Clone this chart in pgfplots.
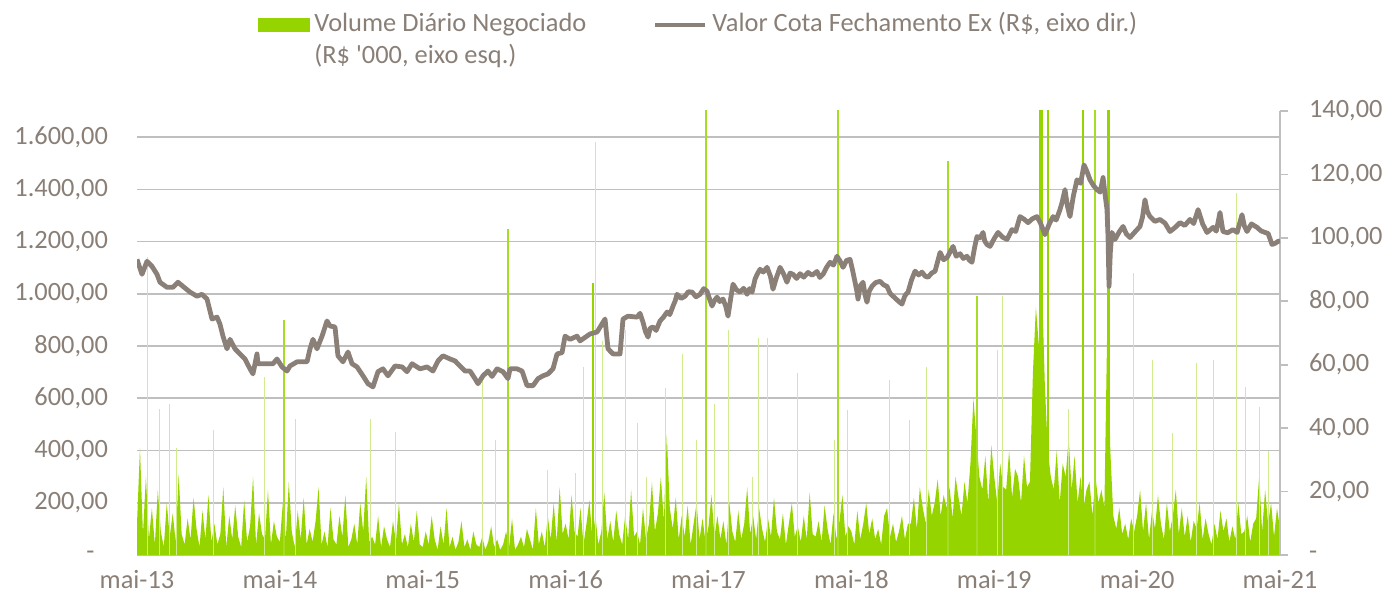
\documentclass[border=0pt]{standalone}
\usepackage{fontspec}
\setmainfont{Carlito}
\usepackage{pgfplots}
\pgfplotsset{compat=1.18}
\definecolor{vgreen}{RGB}{150,212,0}
\definecolor{pgrey}{RGB}{139,128,120}
\definecolor{tgrey}{RGB}{137,127,119}
\definecolor{gridgrey}{RGB}{191,191,191}
\begin{document}
\begin{tikzpicture}
\pgfplotsset{
  every axis/.append style={scale only axis, width=571.5pt, height=222pt, xmin=0, xmax=96,
    tick label style={font=\fontsize{13.2}{16}\selectfont, text=tgrey}},
}
\begin{axis}[
  ymin=0, ymax=1700,
  axis x line*=bottom, axis y line*=left,
  x axis line style={draw=gridgrey, line width=0.8pt},
  y axis line style={draw=none},
  xtick={0,12,...,96},
  xticklabels={mai-13,mai-14,mai-15,mai-16,mai-17,mai-18,mai-19,mai-20,mai-21},
  xtick style={draw=none},
  ytick={0,200,...,1600},
  yticklabels={{-\hphantom{0}},{200,00},{400,00},{600,00},{800,00},{1.000,00},{1.200,00},{1.400,00},{1.600,00}},
  ytick style={draw=none},
  ymajorgrids, grid style={gridgrey, line width=0.8pt},
  yticklabel style={xshift=-11pt},
  xticklabel style={yshift=-4pt},
]
\coordinate (BL) at (rel axis cs:0,0);
\coordinate (TR) at (rel axis cs:1,1);
\coordinate (TL) at (rel axis cs:0,1);
\addplot[fill=vgreen, draw=none] table[row sep=\\, x expr=\coordindex/4, y=v] {v\\
120\\410\\80\\300\\ 60\\180\\40\\250\\ 90\\30\\200\\70\\ 160\\50\\310\\80\\
40\\140\\60\\220\\ 100\\30\\170\\60\\ 230\\50\\120\\40\\ 80\\260\\30\\150\\
60\\190\\70\\30\\ 210\\50\\110\\300\\ 40\\160\\80\\60\\ 250\\40\\130\\70\\
50\\200\\60\\280\\ 90\\30\\170\\60\\ 220\\40\\100\\50\\ 130\\260\\40\\90\\
30\\180\\60\\40\\ 150\\70\\230\\30\\ 60\\120\\40\\200\\ 90\\300\\50\\70\\
40\\150\\30\\110\\ 60\\30\\130\\50\\ 200\\40\\80\\30\\ 120\\50\\170\\40\\
30\\90\\40\\150\\ 60\\20\\110\\40\\ 180\\30\\70\\20\\ 50\\130\\30\\60\\
20\\90\\40\\30\\ 70\\20\\50\\110\\ 30\\60\\20\\40\\ 90\\30\\140\\20\\
40\\70\\30\\100\\ 60\\20\\180\\40\\ 90\\30\\150\\60\\ 200\\50\\260\\80\\
120\\60\\230\\90\\ 70\\180\\40\\120\\ 210\\60\\150\\40\\ 90\\240\\60\\130\\
50\\170\\80\\40\\ 150\\60\\250\\70\\ 90\\40\\180\\60\\ 120\\280\\90\\160\\
300\\130\\460\\180\\ 100\\220\\60\\150\\ 70\\190\\40\\120\\ 200\\60\\140\\50\\
110\\230\\70\\150\\ 60\\130\\40\\200\\ 90\\50\\170\\60\\ 120\\260\\80\\150\\
60\\180\\100\\50\\ 140\\70\\220\\90\\ 60\\160\\40\\120\\ 200\\70\\110\\50\\
150\\60\\240\\80\\ 70\\130\\50\\190\\ 100\\40\\160\\60\\ 130\\230\\70\\110\\
90\\40\\170\\60\\ 120\\200\\80\\140\\ 60\\100\\40\\150\\ 180\\70\\120\\50\\
90\\150\\60\\120\\ 120\\220\\100\\260\\ 180\\120\\250\\150\\ 200\\290\\150\\230\\
180\\260\\140\\300\\ 220\\150\\280\\200\\ 350\\600\\450\\300\\ 250\\380\\200\\420\\
300\\200\\350\\260\\ 250\\400\\220\\330\\ 300\\200\\380\\260\\ 280\\700\\950\\800\\
1050\\650\\400\\300\\ 250\\400\\200\\350\\ 300\\450\\250\\380\\ 200\\300\\180\\250\\
280\\150\\300\\200\\ 250\\180\\900\\400\\ 150\\100\\180\\80\\ 120\\60\\140\\90\\
150\\250\\90\\200\\ 60\\170\\100\\230\\ 120\\60\\200\\90\\ 150\\250\\80\\180\\
70\\150\\50\\130\\ 100\\200\\60\\140\\ 80\\40\\120\\60\\ 170\\90\\140\\50\\
110\\60\\200\\80\\ 90\\150\\50\\120\\ 140\\300\\90\\250\\ 120\\200\\70\\180\\
100\\
} \closedcycle;
% faint thin spikes
\addplot[ycomb, vgreen!45, line width=0.5pt] coordinates {
(0.92,1140) (1.85,560) (2.77,580) (3.28,410) (6.4,480) (10.75,680) (13.35,520)
(19.57,520) (21.7,470) (28.98,670) (30.1,440) (34.5,325) (36.8,314)
(37.5,720) (38.55,1580) (39.06,820) (40.99,860) (42.0,505) (42.8,300)
(44.43,640) (45.78,770) (47.0,440) (48.5,580) (49.72,860) (51.7,300)
(52.16,830) (52.92,830) (55.5,697) (58.6,440) (59.7,555) (63.2,670)
(64.9,517) (66.3,720) (72.3,785) (72.7,990)
(78.20,560) (83.66,1080) (85.3,746) (87.0,467) (89.0,735) (90.4,746)
(92.31,1385) (93.1,643) (94.3,566) (95.0,400)
};
% stronger spikes
\addplot[ycomb, vgreen!85, line width=0.6pt] coordinates {
(12.35,900) (31.16,1250) (47.79,2000) (58.88,2000) (68.12,1510) (70.55,990) (80.46,2000)
};
\addplot[ycomb, vgreen, line width=1pt] coordinates {
(38.30,1040) (75.84,2000) (76.0,2000) (76.51,2000) (79.46,2000) (81.56,2000) (81.64,2000)
};
\end{axis}
\begin{axis}[
  ymin=0, ymax=140,
  axis x line=none, axis y line*=right,
  y axis line style={draw=gridgrey, line width=0.8pt},
  ytick={0,20,...,140},
  yticklabels={-,{20,00},{40,00},{60,00},{80,00},{100,00},{120,00},{140,00}},
  tick align=outside, major tick length=4pt,
  ytick style={draw=gridgrey, line width=0.8pt},
  yticklabel style={xshift=7pt},
]
\addplot[pgrey, line width=2.4pt, line join=round] coordinates {
(0.00,93.2) (0.42,88.5) (0.84,92.6) (1.26,91.0) (1.68,88.5) (1.93,86.0) (2.52,84.4)
(3.02,84.4) (3.44,86.0) (3.86,84.7) (4.45,82.9) (5.04,81.6) (5.46,82.2) (5.88,80.7)
(6.30,74.4) (6.72,75.0) (6.97,72.8) (7.22,69.0) (7.56,65.0) (7.81,68.0) (8.23,65.0)
(8.65,63.4) (9.07,61.8) (9.49,58.7) (9.74,57.1) (10.08,63.4) (10.16,60.3) (10.58,60.3)
(11.42,60.3) (11.76,61.8) (12.18,59.3) (12.60,58.0) (12.85,59.6) (13.44,60.9) (14.28,60.9)
(14.53,65.0) (14.78,68.0) (15.12,65.0) (15.54,69.0) (15.96,73.8) (16.21,72.2) (16.63,71.9)
(16.88,62.8) (17.30,60.9) (17.72,64.0) (18.06,60.3) (18.48,59.3) (18.98,56.5) (19.40,54.0)
(19.82,53.0) (20.24,57.8) (20.66,58.7) (21.08,56.5) (21.67,59.6) (22.26,59.3) (22.68,57.8)
(23.10,60.3) (23.77,58.7) (24.36,59.3) (24.86,58.0) (25.28,61.2) (25.70,62.8) (26.29,61.8)
(26.71,61.2) (27.13,59.6) (27.55,58.0) (27.97,58.0) (28.39,55.6) (28.64,54.0) (29.06,56.5)
(29.48,58.0) (29.82,56.3) (30.24,58.7) (30.74,57.8) (31.16,55.6) (31.33,58.7) (31.92,58.7)
(32.34,58.0) (32.76,53.4) (33.26,53.4) (33.68,55.6) (34.10,56.5) (34.52,57.1) (34.94,58.7)
(35.28,63.4) (35.70,63.8) (35.95,69.0) (36.37,68.0) (36.96,69.0) (37.21,67.5) (38.05,69.7)
(38.64,70.3) (39.31,74.4) (39.56,65.0) (39.98,63.4) (40.57,63.4) (40.82,74.4) (41.24,75.3)
(42.00,75.0) (42.25,76.2) (42.50,73.4) (42.7,70.5) (42.92,68.7) (43.1,71.5) (43.34,71.9)
(43.6,70.8) (43.93,73.8) (44.2,74.9) (44.52,76.6) (44.75,75.8) (45.02,78.5) (45.2,80.1)
(45.36,82.2) (45.7,80.9) (46.03,81.6) (46.3,83.0) (46.62,82.9) (46.95,81.4) (47.29,82.2)
(47.6,84.0) (47.87,83.2) (48.1,80.6) (48.30,78.5) (48.5,80.2) (48.72,81.3) (48.95,79.9)
(49.22,80.7) (49.45,78.4) (49.64,75.3) (49.85,80.5) (50.06,85.4) (50.35,83.6) (50.65,82.9)
(50.95,84.1) (51.24,82.2) (51.45,84.0) (51.66,82.9) (51.91,87.0) (52.1,88.6) (52.33,90.1)
(52.6,89.2) (52.92,90.7) (53.2,87.9) (53.42,83.8) (53.7,87.4) (54.01,90.7) (54.3,88.7)
(54.59,86.0) (54.85,88.9) (55.10,88.5) (55.4,87.2) (55.69,88.7) (56.0,87.6) (56.36,89.1)
(56.7,88.2) (57.11,89.4) (57.35,87.5) (57.62,88.5) (57.9,90.6) (58.21,92.3) (58.5,91.4)
(58.79,94.2) (59.05,92.7) (59.30,90.7) (59.6,92.9) (59.89,93.2) (60.1,89.8) (60.31,86.0)
(60.45,83.4) (60.56,80.7) (60.75,84.9) (60.98,86.0) (61.15,82.0) (61.31,79.7) (61.5,83.2)
(61.73,84.7) (62.05,85.9) (62.41,86.3) (62.7,85.2) (62.99,84.7) (63.25,82.5) (63.50,81.6)
(63.9,80.2) (64.25,79.1) (64.5,81.8) (64.76,82.9) (65.05,86.7) (65.35,89.5) (65.65,88.3)
(65.93,89.2) (66.2,87.9) (66.44,87.6) (66.75,88.9) (67.03,89.5)
(67.45,95.4) (67.75,93.1) (68.04,93.8) (68.3,95.6) (68.54,97.3) (68.8,94.2) (69.13,95.0)
(69.4,93.5) (69.71,94.2) (69.9,93.0) (70.13,92.3) (70.35,97.0) (70.55,100.4) (70.8,100.0)
(71.06,101.7) (71.2,99.0) (71.39,97.9) (71.65,97.3) (72.0,99.8) (72.32,101.7) (72.7,100.2)
(73.07,99.5) (73.49,102.6) (73.8,102.0) (74.16,106.7) (74.5,105.9) (74.84,104.8) (75.2,106.0)
(75.59,106.7) (75.9,104.5) (76.26,101.0) (76.6,104.2) (76.94,106.7) (77.2,105.6) (77.52,108.9)
(77.7,111.2) (77.94,115.2) (78.15,109.9) (78.36,106.7) (78.65,113.3) (78.95,118.3) (79.25,117.2)
(79.54,123.0) (79.8,120.8) (80.04,118.3) (80.35,116.4) (80.63,115.2) (80.9,114.4) (81.14,119.0)
(81.3,113.9) (81.47,108.9) (81.56,100.0) (81.64,84.7) (81.75,95.5) (81.89,101.7)
(82.14,99.5) (82.5,101.9) (82.82,103.6) (83.1,101.2) (83.40,100.1) (83.8,101.8) (84.24,103.6)
(84.45,106.5) (84.66,112.0) (84.85,108.4) (85.08,106.7) (85.5,105.2) (85.92,105.8) (86.35,104.6)
(86.76,102.0) (87.2,103.3) (87.60,104.8) (88.0,103.9) (88.44,105.8) (88.75,104.5) (89.12,108.9)
(89.5,104.4) (89.87,101.7) (90.1,102.4) (90.38,103.3) (90.65,102.1) (90.96,108.0) (91.21,102.0)
(91.6,101.6) (92.06,102.6) (92.4,101.7) (92.81,107.3) (93.0,103.8) (93.23,102.0) (93.6,104.4)
(94.07,103.3) (94.4,102.2) (94.74,101.7) (95.0,101.4) (95.33,97.9) (95.6,98.3) (95.84,98.9)
(96.00,99.0)
};
\end{axis}
\begin{scope}[every node/.style={font=\fontsize{13.2}{16}\selectfont, text=tgrey, inner sep=0pt, anchor=base west}]
\fill[vgreen] ([shift={(60.5pt,39.5pt)}]TL) rectangle ([shift={(86.5pt,46.5pt)}]TL);
\node at ([shift={(88.5pt,39.5pt)}]TL) {Volume Diário Negociado};
\node at ([shift={(88.5pt,23.5pt)}]TL) {(R\$ \textquotesingle 000, eixo esq.)};
\draw[pgrey, line width=2.4pt] ([shift={(259pt,43pt)}]TL) -- ([shift={(284pt,43pt)}]TL);
\node at ([shift={(287.5pt,39.5pt)}]TL) {Valor Cota Fechamento Ex (R\$, eixo dir.)};
\end{scope}
\pgfresetboundingbox
\path[use as bounding box] ([shift={(-68.5pt,-23.5pt)}]BL) rectangle ([shift={(53pt,55.5pt)}]TR);
\end{tikzpicture}
\end{document}
